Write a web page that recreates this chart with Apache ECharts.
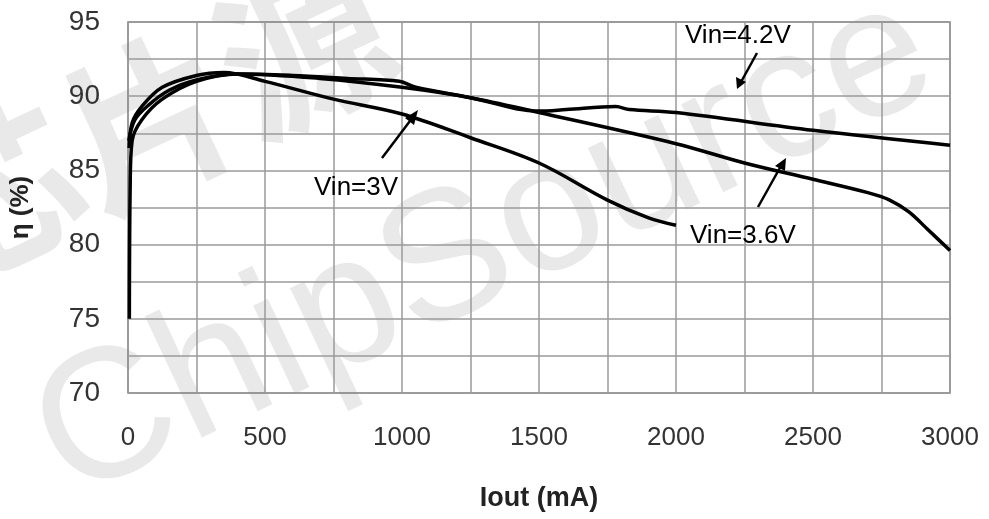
<!DOCTYPE html>
<html>
<head>
<meta charset="utf-8">
<script src="https://cdn.jsdelivr.net/npm/echarts@6/dist/echarts.min.js"></script>
<style>
  html, body { margin: 0; padding: 0; background: #fff; }
  #main { width: 989px; height: 519px; }
</style>
</head>
<body>
<div id="main"></div>
<script>
// efficiency vs load current
var vin3 = [[4, 86.5], [15, 88.2], [50, 89.3], [125, 90.6], [250, 91.4], [350, 91.6], [500, 91.0],
  [750, 89.8], [1000, 88.8], [1250, 87.2], [1500, 85.5], [1750, 83.0], [1900, 81.8], [2000, 81.3]];
var vin36 = [[3, 87.0], [25, 88.4], [75, 89.4], [150, 90.4], [250, 91.1], [400, 91.5], [700, 91.2],
  [1000, 90.6], [1250, 89.9], [1500, 88.9], [2000, 86.8], [2250, 85.5], [2500, 84.4], [2700, 83.5],
  [2780, 83.0], [2850, 82.2], [2920, 81.0], [3000, 79.6]];
var vin42 = [[5, 75.0], [8, 84.0], [15, 87.0], [50, 88.4], [125, 89.8], [250, 91.0], [400, 91.5],
  [600, 91.4], [800, 91.2], [990, 91.0], [1050, 90.6], [1250, 89.9], [1500, 89.0], [1600, 89.1],
  [1780, 89.3], [1830, 89.1], [2000, 88.9], [2500, 87.7], [3000, 86.7]];
var xTicks = [0, 500, 1000, 1500, 2000, 2500, 3000];
var yTicks = [70, 75, 80, 85, 90, 95];

var myChart = echarts.init(document.getElementById('main'));

var font = 'Liberation Sans, Arial, sans-serif';

function curve(name, data) {
  return {
    name: name,
    type: 'line',
    data: data,
    smooth: 0.35,
    symbol: 'none',
    lineStyle: { color: '#000', width: 3.5 },
    z: 3
  };
}

var option = {
  backgroundColor: '#fff',
  animation: false,
  grid: { left: 126, right: 39, top: 22, bottom: 126, show: true, borderColor: '#808080', borderWidth: 1.5 },
  xAxis: {
    type: 'value',
    min: 0, max: 3000, interval: 250,
    name: 'Iout (mA)',
    nameLocation: 'middle',
    nameGap: 92,
    nameTextStyle: { fontFamily: font, fontSize: 27, fontWeight: 'bold', color: '#222' },
    axisLine: { show: false },
    axisTick: { show: false },
    axisLabel: {
      fontFamily: font, fontSize: 26, color: '#333', margin: 32,
      formatter: function (v) { return xTicks.indexOf(v) >= 0 ? String(v) : ''; }
    },
    splitLine: { show: true, lineStyle: { color: '#9a9a9a', width: 1.5 } }
  },
  yAxis: {
    type: 'value',
    min: 70, max: 95, interval: 2.5,
    name: 'η (%)',
    nameLocation: 'middle',
    nameGap: 94,
    nameRotate: 90,
    nameTextStyle: { fontFamily: font, fontSize: 26, fontWeight: 'bold', color: '#222' },
    axisLine: { show: false },
    axisTick: { show: false },
    axisLabel: {
      fontFamily: font, fontSize: 28, color: '#333', margin: 28,
      formatter: function (v) { return yTicks.indexOf(v) >= 0 ? String(v) : ''; }
    },
    splitLine: { show: true, lineStyle: { color: '#9a9a9a', width: 1.5 } }
  },
  graphic: [
    { type: 'text', x: 485, y: 248, rotation: 0.44, z: 0, silent: true,
      style: { text: 'ChipSource', font: '185px "Liberation Sans", Arial', fill: 'rgba(0,0,0,0.085)',
        align: 'center', verticalAlign: 'middle' } },
    { type: 'text', x: 150, y: 120, rotation: 0.44, z: 0, silent: true,
      style: { text: '芯片源', font: 'bold 170px "Noto Sans CJK SC"', fill: 'rgba(0,0,0,0.085)',
        align: 'center', verticalAlign: 'middle' } },
    { type: 'text', left: 314, top: 175, z: 10,
      style: { text: 'Vin=3V', font: '26px "Liberation Sans", Arial', fill: '#000' } },
    { type: 'text', left: 685, top: 23, z: 10,
      style: { text: 'Vin=4.2V', font: '26px "Liberation Sans", Arial', fill: '#000' } },
    { type: 'text', left: 690, top: 223, z: 10,
      style: { text: 'Vin=3.6V', font: '26px "Liberation Sans", Arial', fill: '#000' } },
    { type: 'line', z: 10, shape: { x1: 382, y1: 158, x2: 413, y2: 117 }, style: { stroke: '#000', lineWidth: 2.5 } },
    { type: 'polygon', z: 10, shape: { points: [[418, 110], [405, 118], [414, 125]] }, style: { fill: '#000' } },
    { type: 'line', z: 10, shape: { x1: 757, y1: 53, x2: 741, y2: 82 }, style: { stroke: '#000', lineWidth: 2.5 } },
    { type: 'polygon', z: 10, shape: { points: [[737, 89], [736, 77], [746, 82]] }, style: { fill: '#000' } },
    { type: 'line', z: 10, shape: { x1: 758, y1: 207, x2: 781, y2: 166 }, style: { stroke: '#000', lineWidth: 2.5 } },
    { type: 'polygon', z: 10, shape: { points: [[786, 158], [775, 166], [785, 171]] }, style: { fill: '#000' } }
  ],
  series: [
    curve('Vin=3V', vin3),
    curve('Vin=3.6V', vin36),
    curve('Vin=4.2V', vin42)
  ]
};

myChart.setOption(option);
</script>
</body>
</html>
